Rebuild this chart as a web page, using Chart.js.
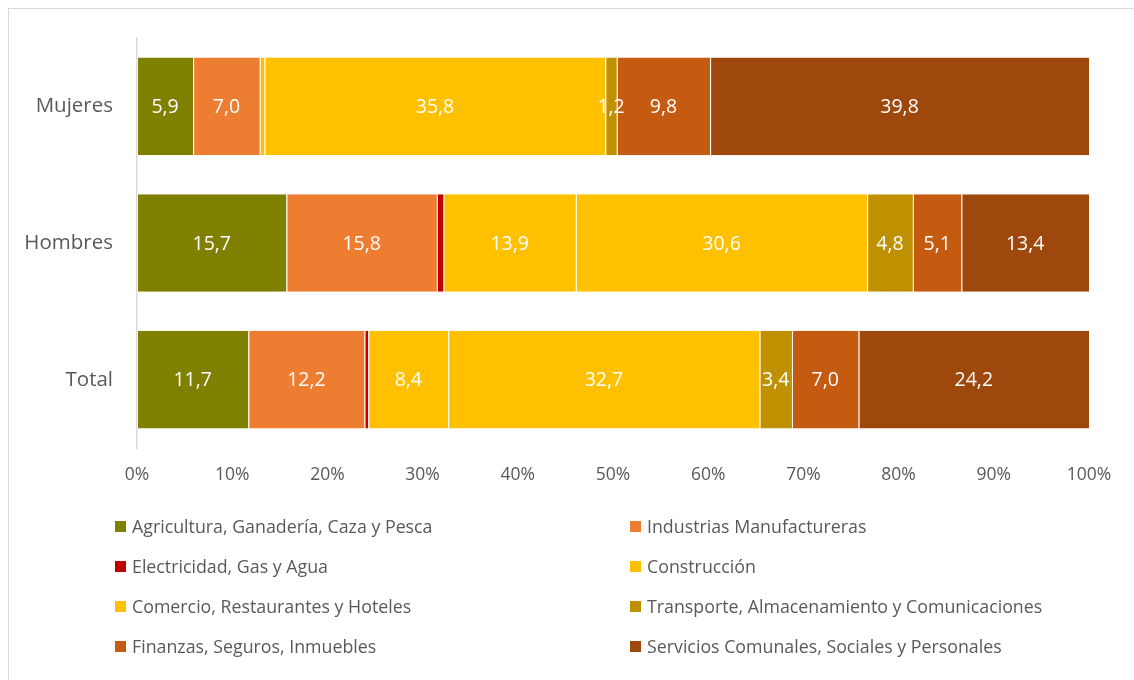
<!DOCTYPE html>
<html>
<head>
<meta charset="utf-8">
<script src="https://cdn.jsdelivr.net/npm/chart.js@4"></script>
<style>
  html, body { margin: 0; padding: 0; background: #fff; overflow: hidden; }
  body { width: 1134px; height: 680px; position: relative; font-family: "Open Sans", "Noto Sans", sans-serif; }
  #frame { position: absolute; left: 8px; top: 8px; width: 1200px; height: 800px; border: 1px solid #d9d9d9; box-sizing: border-box; }
  #wrap { position: absolute; left: 0; top: 0; width: 1134px; height: 500px; }
  #legend { position: absolute; left: 0; top: 0; width: 1134px; height: 680px; pointer-events: none; }
  .li { position: absolute; height: 20px; line-height: 20px; font-size: 17.8px; color: #595959; white-space: nowrap; }
  .sw { position: absolute; left: 0; top: 4px; width: 11px; height: 11px; }
  .tx { position: absolute; left: 17px; top: -1px; }
</style>
</head>
<body>
<div id="frame"></div>
<div id="wrap"><canvas id="c" width="1134" height="500"></canvas></div>
<div id="legend"></div>
<script>
// Categories (top to bottom)
const categories = ["Mujeres", "Hombres", "Total"];

// Series names
const seriesNames = [
  "Agricultura, Ganadería, Caza y Pesca",
  "Industrias Manufactureras",
  "Electricidad, Gas y Agua",
  "Construcción",
  "Comercio, Restaurantes y Hoteles",
  "Transporte, Almacenamiento y Comunicaciones",
  "Finanzas, Seguros, Inmuebles",
  "Servicios Comunales, Sociales y Personales"
];

// Series values (Mujeres, Hombres, Total)
const agricultura   = [5.9, 15.7, 11.7];
const industrias    = [7.0, 15.8, 12.2];
const electricidad  = [0.0, 0.7, 0.4];
const construccion  = [0.5, 13.9, 8.4];
const comercio      = [35.8, 30.6, 32.7];
const transporte    = [1.2, 4.8, 3.4];
const finanzas      = [9.8, 5.1, 7.0];
const servicios     = [39.8, 13.4, 24.2];

const seriesValues = [agricultura, industrias, electricidad, construccion, comercio, transporte, finanzas, servicios];
const seriesColors = ["#7F7F00", "#ED7D31", "#C00000", "#FFC000", "#FFC000", "#BF9000", "#C55A11", "#9E480E"];

// X tick labels
const tickLabels = ["0%", "10%", "20%", "30%", "40%", "50%", "60%", "70%", "80%", "90%", "100%"];

// 100% stacking: share of each category total
const totals = categories.map((_, i) => seriesValues.reduce((s, arr) => s + arr[i], 0));

const datasets = seriesNames.map((name, k) => ({
  label: name,
  data: seriesValues[k].map((v, i) => v / totals[i] * 100),
  raw: seriesValues[k],
  backgroundColor: seriesColors[k],
  borderColor: "rgba(255,255,255,0.3)",
  borderWidth: { left: 1, right: 0, top: 0, bottom: 0 },
  borderSkipped: false,
  barPercentage: 0.715,
  categoryPercentage: 1.0
}));

const FONT = "'Open Sans', 'Noto Sans', sans-serif";

const labelPlugin = {
  id: "segLabels",
  afterDatasetsDraw(chart) {
    const ctx = chart.ctx;
    ctx.save();
    ctx.font = "19.5px " + FONT;
    ctx.fillStyle = "#ffffff";
    ctx.textAlign = "center";
    ctx.textBaseline = "middle";
    chart.data.datasets.forEach((ds, di) => {
      const meta = chart.getDatasetMeta(di);
      meta.data.forEach((bar, i) => {
        const v = ds.raw[i];
        if (v < 1) return;
        const cx = (bar.x + bar.base) / 2;
        ctx.fillText(v.toFixed(1).replace(".", ","), cx, bar.y + 1);
      });
    });
    ctx.restore();
  }
};

new Chart(document.getElementById("c"), {
  type: "bar",
  data: { labels: categories, datasets },
  options: {
    indexAxis: "y",
    responsive: false,
    animation: false,
    layout: { padding: { left: 0, right: 45, top: 38, bottom: 0 } },
    plugins: { legend: { display: false }, tooltip: { enabled: false } },
    scales: {
      x: {
        stacked: true,
        min: 0, max: 100,
        grid: { display: false, drawTicks: false },
        border: { display: false },
        ticks: {
          stepSize: 10,
          padding: 17,
          color: "#595959",
          font: { family: FONT, size: 17.5 },
          callback: (v, i) => tickLabels[i]
        },
        afterFit: (s) => { s.height = 52; }
      },
      y: {
        stacked: true,
        grid: { display: false, drawTicks: false },
        border: { display: true, color: "#d9d9d9", width: 1.5 },
        ticks: {
          padding: 24,
          color: "#595959",
          font: { family: FONT, size: 20.5 }
        },
        afterFit: (s) => { s.width = 137; }
      }
    }
  },
  plugins: [labelPlugin]
});

// HTML legend in two columns
const legend = document.getElementById("legend");
const colX = [115, 630];
const rowY = [517, 557, 597, 637];
seriesNames.forEach((name, k) => {
  const d = document.createElement("div");
  d.className = "li";
  d.style.left = colX[k % 2] + "px";
  d.style.top = rowY[Math.floor(k / 2)] + "px";
  d.innerHTML = '<span class="sw" style="background:' + seriesColors[k] + '"></span><span class="tx"></span>';
  d.querySelector(".tx").textContent = name;
  legend.appendChild(d);
});
</script>
</body>
</html>
